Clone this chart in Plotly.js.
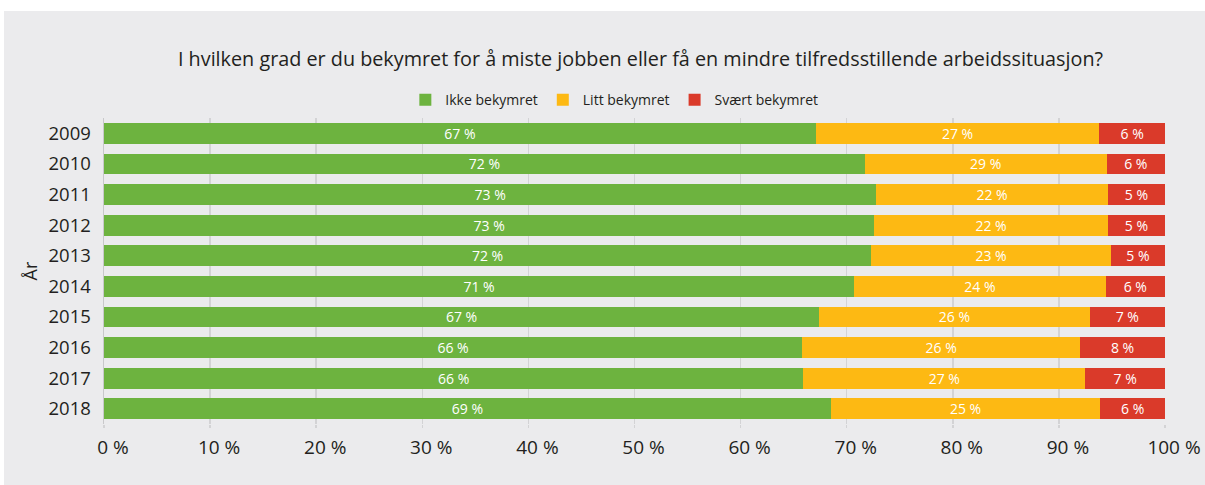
<!DOCTYPE html>
<html>
<head>
<meta charset="utf-8">
<script src="https://cdn.plot.ly/plotly-3.0.1.min.js"></script>
<style>
html,body{margin:0;padding:0;background:#ffffff;}
#chart{position:absolute;left:4px;top:11px;width:1201px;height:474px;}
</style>
</head>
<body>
<div id="chart"></div>
<script>
const years = ["2009","2010","2011","2012","2013","2014","2015","2016","2017","2018"];
// bar lengths (share, %)
const ikkeBekymret  = [67.1, 71.7, 72.8, 72.6, 72.3, 70.7, 67.4, 65.8, 65.9, 68.5];
const littBekymret  = [26.7, 22.8, 21.8, 22.0, 22.6, 23.7, 25.5, 26.2, 26.6, 25.4];
const svaertBekymret= [6.2, 5.5, 5.4, 5.4, 5.1, 5.6, 7.1, 8.0, 7.5, 6.1];
// labels printed on the bars
const ikkeLabels   = [67, 72, 73, 73, 72, 71, 67, 66, 66, 69];
const littLabels   = [27, 29, 22, 22, 23, 24, 26, 26, 27, 25];
const svaertLabels = [6, 6, 5, 5, 5, 6, 7, 8, 7, 6];
const seriesNames = ["Ikke bekymret", "Litt bekymret", "Svært bekymret"];
const colors = ["#6db33f", "#fdb913", "#da3a2a"];
const xTicks = [0,10,20,30,40,50,60,70,80,90,100];
const xTickText = xTicks.map(v => v + " %");

const FONT = "Open Sans, sans-serif";
function mk(name, vals, labels, color){
  return {
    type: "bar", orientation: "h", name: name,
    y: years, x: vals,
    text: labels.map(v => v + " %"),
    texttemplate: "%{text}",
    textposition: "inside", insidetextanchor: "middle", textangle: 0,
    constraintext: "none",
    textfont: {family: FONT, size: 14, color: "#ffffff"},
    marker: {color: color, line: {width: 0}},
    hoverinfo: "skip"
  };
}
const data = [
  mk(seriesNames[0], ikkeBekymret, ikkeLabels, colors[0]),
  mk(seriesNames[1], littBekymret, littLabels, colors[1]),
  mk(seriesNames[2], svaertBekymret, svaertLabels, colors[2])
];
const layout = {
  width: 1201, height: 474,
  paper_bgcolor: "#ebebed", plot_bgcolor: "#ebebed",
  barmode: "stack", bargap: 0.32,
  margin: {l: 100, r: 40, t: 107, b: 61},
  font: {family: FONT, color: "#231f20"},
  title: {
    text: "I hvilken grad er du bekymret for å miste jobben eller få en mindre tilfredsstillende arbeidssituasjon?",
    font: {family: FONT, size: 19.8, color: "#231f20"},
    xref: "container", x: 0.530, xanchor: "center",
    yref: "container", y: 1 - 48/474, yanchor: "middle"
  },
  showlegend: true,
  legend: {
    orientation: "h", x: 0.481, xanchor: "center", y: 1.058, yanchor: "middle",
    font: {family: FONT, size: 14, color: "#231f20"},
    bgcolor: "rgba(0,0,0,0)", traceorder: "normal",
    itemwidth: 30, tracegroupgap: 0
  },
  xaxis: {
    range: [0, 100], tickvals: xTicks, ticktext: xTickText,
    showgrid: true, gridcolor: "#d3d3d5", gridwidth: 1.5,
    zeroline: false, showline: false,
    ticks: "outside", ticklen: 3, tickcolor: "#d3d3d5", tickwidth: 1.5,
    ticklabelstandoff: 3, ticklabelshift: 9,
    tickfont: {family: FONT, size: 19, color: "#231f20"},
    fixedrange: true
  },
  yaxis: {
    type: "category", autorange: "reversed",
    showgrid: false, zeroline: false,
    showline: true, linecolor: "#c8c8ca", linewidth: 1.5,
    ticks: "", ticklabelstandoff: 8,
    tickfont: {family: FONT, size: 18.5, color: "#231f20"},
    title: {text: "År", font: {family: FONT, size: 18, color: "#231f20"}, standoff: 6}
  }
};
Plotly.newPlot("chart", data, layout, {staticPlot: true});
</script>
</body>
</html>
